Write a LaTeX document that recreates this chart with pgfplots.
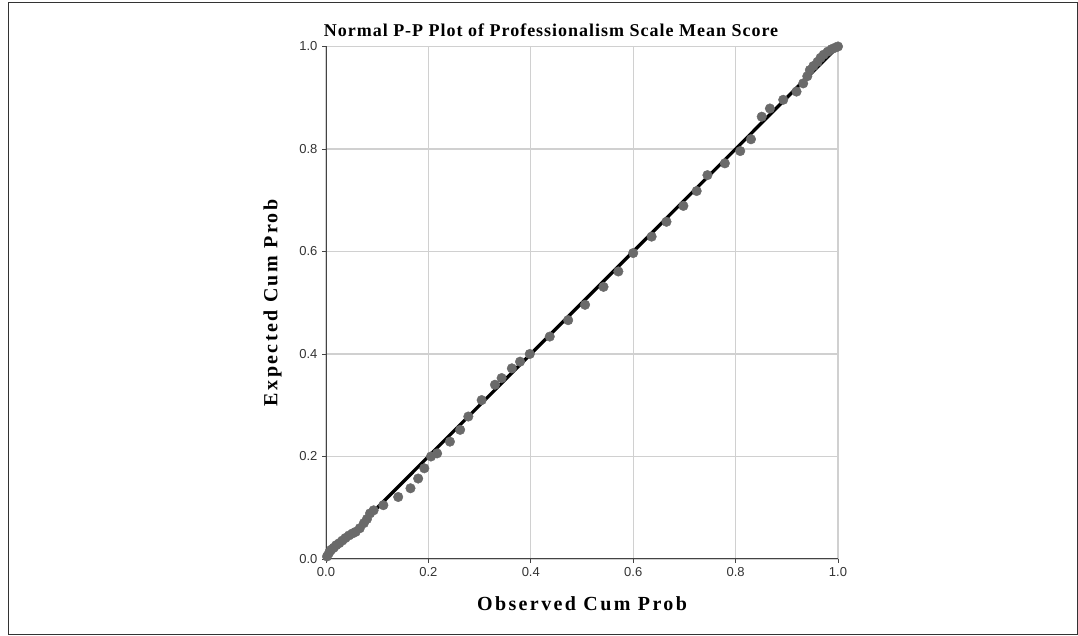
\documentclass[border=0pt]{standalone}
\usepackage{fontspec}
\setmainfont{Liberation Serif}
\newfontfamily\tickfont{Liberation Sans}
\newfontfamily\titlefont[LetterSpace=5.5]{Liberation Serif}
\newfontfamily\labelfont[LetterSpace=12]{Liberation Serif}
\usepackage{pgfplots}
\pgfplotsset{compat=1.18}
\definecolor{gridc}{HTML}{D0D0D0}
\definecolor{axc}{HTML}{444444}
\definecolor{ptc}{HTML}{6A6A6A}
\begin{document}
\begin{tikzpicture}[x=1pt,y=1pt]
\useasboundingbox (0,0) rectangle (1078,636);
\draw[black!80,line width=1pt] (8,1) -- (8,633) -- (1077,633) -- (1077,1) -- cycle;
\node[font=\titlefont\fontsize{18}{20}\selectfont\bfseries] at (551,606) {Normal P-P Plot of Professionalism Scale Mean Score};
\begin{axis}[
  at={(326pt,77pt)}, anchor=south west,
  scale only axis, width=512pt, height=512.5pt,
  xmin=0, xmax=1, ymin=0, ymax=1,
  axis x line*=bottom, axis y line*=left,
  axis line style={axc, line width=1pt},
  xtick={0,0.2,0.4,0.6,0.8,1.0}, ytick={0,0.2,0.4,0.6,0.8,1.0},
  xticklabels={0.0,0.2,0.4,0.6,0.8,1.0}, yticklabels={0.0,0.2,0.4,0.6,0.8,1.0},
  grid=major, major grid style={gridc, line width=1.2pt},
  tick align=outside, major tick length=4pt, tick style={axc, line width=0.8pt},
  ticklabel style={font=\tickfont\fontsize{13}{15}\selectfont, text=black!80},
  /pgf/number format/assume math mode=true,
  xticklabel style={yshift=-1pt},
  yticklabel style={xshift=-1pt},
  xlabel={Observed Cum Prob},
  ylabel={Expected Cum Prob},
  label style={font=\labelfont\fontsize{20}{22}\selectfont\bfseries},
  xlabel style={yshift=-13pt},
  ylabel style={yshift=11pt},
  clip=false,
]
\addplot[only marks, mark=*, mark size=4.8pt, mark options={fill=ptc, draw=ptc}] coordinates {
(0.002,0.005)(0.006,0.012)(0.010,0.018)(0.015,0.022)(0.020,0.027)(0.026,0.031)
(0.032,0.036)(0.038,0.041)(0.045,0.046)(0.052,0.050)(0.058,0.053)(0.066,0.060)
(0.074,0.070)(0.080,0.078)(0.086,0.089)(0.093,0.095)(0.112,0.105)(0.141,0.121)
(0.165,0.138)(0.180,0.157)(0.192,0.177)(0.205,0.200)(0.217,0.206)(0.242,0.229)
(0.262,0.252)(0.278,0.278)(0.304,0.310)(0.330,0.340)(0.343,0.353)(0.363,0.372)
(0.379,0.385)(0.398,0.400)(0.437,0.434)(0.473,0.466)(0.506,0.496)(0.542,0.531)
(0.571,0.561)(0.600,0.597)(0.636,0.629)(0.665,0.658)(0.698,0.689)(0.724,0.718)
(0.745,0.749)(0.779,0.772)(0.809,0.796)(0.830,0.819)(0.851,0.863)(0.867,0.879)
(0.893,0.896)(0.919,0.912)(0.932,0.928)(0.940,0.942)(0.945,0.954)(0.952,0.962)
(0.960,0.970)(0.966,0.978)(0.972,0.984)(0.980,0.990)(0.988,0.995)(0.995,0.998)(1.000,1.000)
};
\addplot[black, line width=3.3pt] coordinates {(0,0)(1,1)};
\end{axis}
\end{tikzpicture}
\end{document}
